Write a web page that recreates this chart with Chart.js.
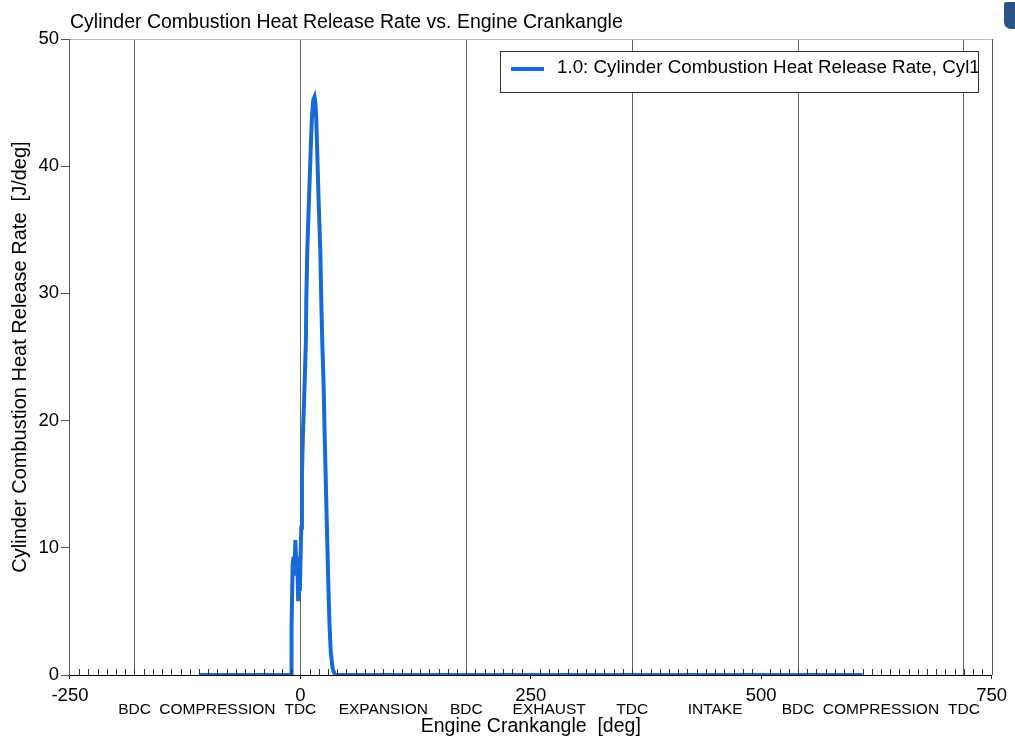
<!DOCTYPE html>
<html lang="en">
<head>
  <meta charset="UTF-8" />
  <title>Cylinder Combustion Heat Release Rate vs. Engine Crankangle</title>
  <script src="https://cdn.jsdelivr.net/npm/chart.js"></script>
  <style>
    body { margin: 0; background: #fff; }
    #wrap { position: relative; width: 1015px; height: 736px; }
    canvas { display: block; }
    #badge { position: absolute; left: 1004px; top: 2px; width: 11px; height: 27px;
             background: #2c5389; border-radius: 2px 0 0 7px; }
  </style>
</head>
<body>
  <div id="wrap">
    <canvas id="hrr" width="1015" height="736"></canvas>
    <div id="badge"></div>
  </div>

  <script>
    // crank angle [deg] and heat release rate [J/deg]
    const crankAngle = [-110, -9.8, -9.6, -8.4, -7.4, -6.6, -5.4, -4.2, -3.4, -2.4, -1.4, -0.6,
      0.3, 1.0, 1.7, 2.8, 4.6, 6.0, 6.4, 7.5, 9.3, 11.1, 12.5, 14.0, 15.4, 16.3, 17.2, 18.3,
      19.8, 21.6, 22.7, 23.7, 25.2, 26.3, 27.4, 28.8, 30.2, 31.6, 33.0, 35.0, 37.5, 610];
    const heatRelease = [0, 0, 3.7, 8.7, 9.3, 7.8, 10.6, 8.2, 9.3, 5.8, 8.0, 6.6,
      9.5, 11.6, 15.8, 19.0, 22.9, 26.3, 29.4, 33.4, 37.3, 41.1, 43.8, 45.2, 45.45, 45.0, 43.8, 41.1,
      37.3, 33.4, 29.4, 26.3, 22.9, 19.0, 15.8, 11.6, 7.5, 4.0, 1.8, 0.5, 0, 0];

    // cycle events along the crank axis
    const eventAngles = [-180, 0, 180, 360, 540, 720];
    const phaseAngles = [-180, -90, 0, 90, 180, 270, 360, 450, 540, 630, 720];
    const phaseNames = ["BDC", "COMPRESSION", "TDC", "EXPANSION", "BDC", "EXHAUST",
      "TDC", "INTAKE", "BDC", "COMPRESSION", "TDC"];

    const seriesLabel = "1.0: Cylinder Combustion Heat Release Rate, Cyl1";
    const lineBlue = "#1669d6";
    const font = "Liberation Sans";

    // minor ticks pointing up into the plot, top/right frame, legend box
    const frame = {
      id: "frame",
      afterDraw(chart) {
        const { ctx, chartArea: a } = chart;
        const x = chart.scales.x;
        ctx.save();
        ctx.lineWidth = 1;
        ctx.strokeStyle = "#333";
        ctx.beginPath();
        x.ticks.forEach(t => {
          if (t.value % 250 === 0) return;
          const px = Math.round(x.getPixelForValue(t.value)) + 0.5;
          ctx.moveTo(px, a.bottom);
          ctx.lineTo(px, a.bottom - 6);
        });
        ctx.stroke();
        ctx.strokeStyle = "#bbb";
        ctx.beginPath();
        ctx.moveTo(a.left, Math.round(a.top) + 0.5);
        ctx.lineTo(a.right, Math.round(a.top) + 0.5);
        ctx.stroke();
        ctx.strokeStyle = "#555";
        ctx.beginPath();
        ctx.moveTo(Math.round(a.right) + 0.5, a.top);
        ctx.lineTo(Math.round(a.right) + 0.5, a.bottom);
        ctx.stroke();

        const ds = chart.data.datasets[0];
        const bx = Math.round(a.right) - 492, by = Math.round(a.top) + 12, bw = 478, bh = 41;
        ctx.fillStyle = "#fff";
        ctx.fillRect(bx, by, bw, bh);
        ctx.strokeStyle = "#333";
        ctx.strokeRect(bx + 0.5, by + 0.5, bw, bh);
        ctx.strokeStyle = ds.borderColor;
        ctx.lineWidth = 4;
        ctx.beginPath();
        ctx.moveTo(bx + 11, by + 18);
        ctx.lineTo(bx + 44, by + 18);
        ctx.stroke();
        ctx.fillStyle = "#000";
        ctx.font = "18.8px '" + font + "'";
        ctx.textBaseline = "middle";
        ctx.fillText(ds.label, bx + 57, by + 17);
        ctx.restore();
      }
    };

    new Chart(document.getElementById("hrr"), {
      type: "line",
      data: {
        datasets: [{
          label: seriesLabel,
          data: crankAngle.map((a, i) => ({ x: a, y: heatRelease[i] })),
          borderColor: lineBlue,
          backgroundColor: lineBlue,
          borderWidth: 4,
          pointRadius: 0,
          tension: 0,
          fill: false
        }]
      },
      options: {
        responsive: false,
        animation: false,
        layout: { padding: { top: 0, left: 0, right: 21, bottom: 0 } },
        plugins: {
          legend: { display: false },
          tooltip: { enabled: false },
          title: {
            display: true,
            text: "Cylinder Combustion Heat Release Rate vs. Engine Crankangle",
            align: "start",
            fullSize: false,
            color: "#000",
            font: { family: font, size: 19.5, weight: "normal", lineHeight: 1.2 },
            padding: { top: 11.3, bottom: 4.3 }
          }
        },
        scales: {
          x: {
            type: "linear",
            position: "bottom",
            min: -250,
            max: 750,
            ticks: {
              stepSize: 10,
              autoSkip: false,
              maxRotation: 0,
              padding: 8,
              color: "#000",
              font: { family: font, size: 18.5, lineHeight: 1 },
              callback: v => (v % 250 === 0 ? v : "")
            },
            grid: {
              color: c => (eventAngles.includes(c.tick && c.tick.value) ? "#666" : "rgba(0,0,0,0)"),
              lineWidth: 1,
              drawTicks: true,
              tickLength: 4,
              tickColor: c => (c.tick && c.tick.value % 250 === 0 ? "#000" : "rgba(0,0,0,0)")
            },
            border: { color: "#000", width: 1 }
          },
          x2: {
            type: "linear",
            position: "bottom",
            min: -250,
            max: 750,
            afterBuildTicks: s => { s.ticks = phaseAngles.map(v => ({ value: v })); },
            ticks: {
              autoSkip: false,
              maxRotation: 0,
              mirror: true,
              padding: -4.25,
              color: "#000",
              font: { family: font, size: 15.5, lineHeight: 1 },
              callback: (v, i) => phaseNames[i]
            },
            grid: { display: false, drawTicks: false },
            border: { display: false },
            title: {
              display: true,
              text: "Engine Crankangle  [deg]",
              color: "#000",
              font: { family: font, size: 19.5, lineHeight: 1 },
              padding: { top: 11.5, bottom: 0 }
            }
          },
          y: {
            min: 0,
            max: 50,
            ticks: {
              stepSize: 10,
              padding: 2,
              color: "#000",
              font: { family: font, size: 18.5 }
            },
            grid: { drawOnChartArea: false, drawTicks: true, tickLength: 9, tickColor: "#555" },
            border: { color: "#555", width: 1 },
            title: {
              display: true,
              text: "Cylinder Combustion Heat Release Rate  [J/deg]",
              color: "#000",
              font: { family: font, size: 20, lineHeight: 1.2 },
              padding: { top: 8, bottom: 4.4 }
            }
          }
        }
      },
      plugins: [frame]
    });
  </script>
</body>
</html>
